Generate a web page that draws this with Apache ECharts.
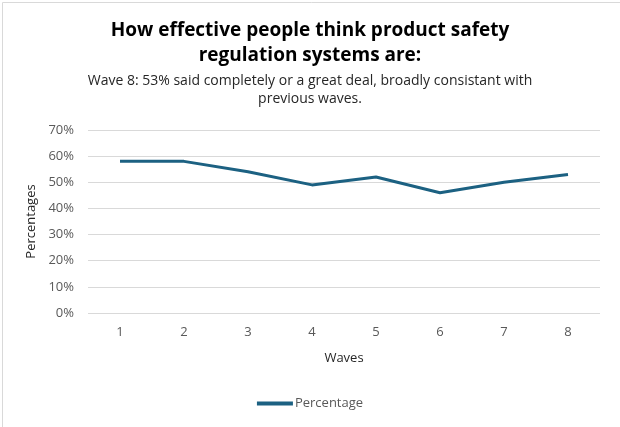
<!DOCTYPE html>
<html>
<head>
<meta charset="utf-8">
<script src="https://cdn.jsdelivr.net/npm/echarts@6/dist/echarts.min.js"></script>
<style>
html,body{margin:0;padding:0;background:#fff;}
#c{width:620px;height:427px;}
</style>
</head>
<body>
<div id="c"></div>
<script>
const waves = ['1','2','3','4','5','6','7','8'];
const percentage = [58, 58, 54, 49, 52, 46, 50, 53];
const seriesName = 'Percentage';
const titleText = 'How effective people think product safety\nregulation systems are:';
const subText = 'Wave 8: 53% said completely or a great deal, broadly consistant with\nprevious waves.';

const chart = echarts.init(document.getElementById('c'));
const font = 'Open Sans, Noto Sans, sans-serif';
chart.setOption({
  animation: false,
  textStyle: {fontFamily: font},
  graphic: [{
    type: 'rect', left: 0, top: 0,
    shape: {x: 0.5, y: 0.5, width: 618.5, height: 425.5},
    style: {fill: 'none', stroke: '#d9d9d9', lineWidth: 1}
  }],
  title: {
    text: titleText,
    subtext: subText,
    left: 'center',
    top: 13,
    itemGap: 4,
    textStyle: {fontSize: 19, fontWeight: 'bold', color: '#000', lineHeight: 25, fontFamily: font},
    subtextStyle: {fontSize: 14, color: '#262626', lineHeight: 18, fontFamily: font}
  },
  grid: {left: 88, right: 20, top: 130, bottom: 114},
  legend: {
    bottom: 12,
    left: 'center',
    itemWidth: 36,
    itemHeight: 4,
    icon: 'rect',
    itemGap: 0,
    textStyle: {color: '#595959', fontSize: 13, padding: [0,0,0,-3]},
    data: [seriesName]
  },
  xAxis: {
    type: 'category',
    data: waves,
    boundaryGap: true,
    name: 'Waves',
    nameLocation: 'middle',
    nameGap: 39,
    nameTextStyle: {color: '#262626', fontSize: 13},
    axisLine: {show: false},
    axisTick: {show: false},
    axisLabel: {color: '#595959', fontSize: 13, margin: 13}
  },
  yAxis: {
    type: 'value',
    min: 0, max: 70, interval: 10,
    name: 'Percentages',
    nameLocation: 'middle',
    nameGap: 49,
    nameTextStyle: {color: '#262626', fontSize: 13},
    axisLine: {show: false},
    axisTick: {show: false},
    axisLabel: {color: '#595959', fontSize: 13, margin: 14, formatter: '{value}%'},
    splitLine: {lineStyle: {color: '#d9d9d9', width: 1}}
  },
  series: [{
    name: seriesName,
    type: 'line',
    data: percentage,
    symbol: 'none',
    lineStyle: {color: '#1c6182', width: 3},
    itemStyle: {color: '#1c6182'}
  }]
});
</script>
</body>
</html>
